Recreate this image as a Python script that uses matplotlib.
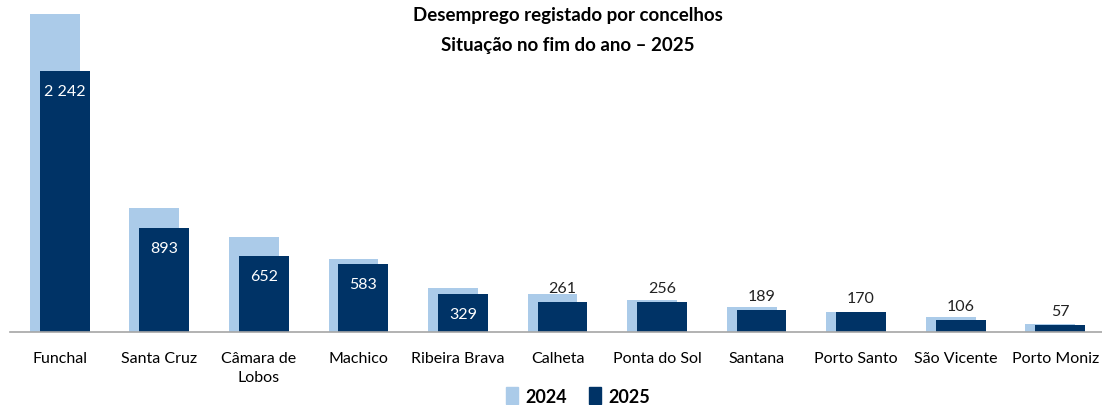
import matplotlib.pyplot as plt
import numpy as np
from matplotlib.patches import Patch

plt.rcParams['font.family'] = ['Lato', 'DejaVu Sans']

concelhos = ["Funchal", "Santa Cruz", "Câmara de\nLobos", "Machico", "Ribeira Brava",
             "Calheta", "Ponta do Sol", "Santana", "Porto Santo", "São Vicente", "Porto Moniz"]
v2024 = [2732, 1066, 816, 624, 378, 330, 277, 211, 174, 127, 73]
v2025 = [2242, 893, 652, 583, 329, 261, 256, 189, 170, 106, 57]

light = "#abcbe9"
dark = "#003366"

fig = plt.figure(figsize=(11.02, 4.06), dpi=100)
ax = fig.add_axes([10/1102, 1 - 333/406, 1095/1102, 325.6/406])

x = np.arange(len(concelhos))
ax.bar(x - 0.05, v2024, width=0.5, color=light, zorder=1)
ax.bar(x + 0.05, v2025, width=0.5, color=dark, zorder=2)

ax.set_xlim(-0.5, len(concelhos) - 0.5)
ax.set_ylim(0, 2800)

for xi, v in zip(x, v2025):
    lbl = f"{v:,}".replace(",", " ")
    if v >= 300:
        ax.annotate(lbl, (xi + 0.05, v), xytext=(0, -20), textcoords="offset pixels",
                    ha="center", va="center", color="white", fontsize=11.5, zorder=3)
    else:
        ax.annotate(lbl, (xi + 0.05, v), xytext=(0, 14), textcoords="offset pixels",
                    ha="center", va="center", color="#222222", fontsize=11.5, zorder=3)

ax.set_xticks(x)
ax.set_xticklabels(concelhos, fontsize=11.5, linespacing=1.45)
ax.tick_params(axis="x", length=0, pad=14)
ax.set_yticks([])
for s in ["top", "right", "left"]:
    ax.spines[s].set_visible(False)
ax.spines["bottom"].set_color("#a6a6a6")
ax.spines["bottom"].set_linewidth(1.2)

fig.text(0.515, 1 - 15/406, "Desemprego registado por concelhos", ha="center", va="center",
         fontsize=13.5, fontweight="bold")
fig.text(0.515, 1 - 46/406, "Situação no fim do ano – 2025", ha="center", va="center",
         fontsize=13.5, fontweight="bold")

handles = [Patch(color=light, label="2024"), Patch(color=dark, label="2025")]
fig.legend(handles=handles, loc="center", bbox_to_anchor=(578/1102, 1 - 397/406), ncol=2,
           frameon=False, prop={"size": 13, "weight": "bold"}, handlelength=0.7,
           handleheight=1.0, handletextpad=0.4, columnspacing=1.2)

fig.savefig("out.png", dpi=100)
